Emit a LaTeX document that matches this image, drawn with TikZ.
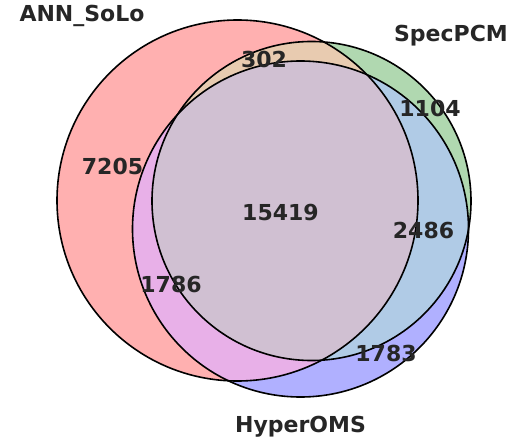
\documentclass[tikz,border=0pt]{standalone}
\usepackage{fontspec}
\setmainfont{DejaVu Sans}
\definecolor{rOnly}{HTML}{FFB0B0}
\definecolor{gOnly}{HTML}{B0D8B0}
\definecolor{bOnly}{HTML}{B0B0FF}
\definecolor{rgCol}{HTML}{E8CBB0}
\definecolor{rbCol}{HTML}{E8B0E8}
\definecolor{gbCol}{HTML}{B0CBE6}
\definecolor{rgbCol}{HTML}{D0C0D2}
\definecolor{txt}{HTML}{262626}
\tikzset{
  lbl/.style={font=\bfseries\fontsize{22}{26}\selectfont, text=txt, anchor=base, inner sep=0pt},
  outline/.style={draw=black, line width=1.6pt}
}
\begin{document}
\begin{tikzpicture}[x=1pt,y=-1pt]
\useasboundingbox (0,0) rectangle (522,441);
\coordinate (cR) at (237.5,200.5);
\coordinate (cG) at (311.5,201);
\coordinate (cB) at (300.5,229);
\def\rR{180.5}
\def\rG{159.5}
\def\rB{168}
% single sets
\fill[rOnly] (cR) circle[radius=\rR];
\fill[gOnly] (cG) circle[radius=\rG];
\fill[bOnly] (cB) circle[radius=\rB];
% pairwise
\begin{scope}
  \clip (cR) circle[radius=\rR];
  \fill[rgCol] (cG) circle[radius=\rG];
  \fill[rbCol] (cB) circle[radius=\rB];
\end{scope}
\begin{scope}
  \clip (cG) circle[radius=\rG];
  \fill[gbCol] (cB) circle[radius=\rB];
\end{scope}
\begin{scope}
  \clip (cR) circle[radius=\rR];
  \clip (cG) circle[radius=\rG];
  \fill[rgbCol] (cB) circle[radius=\rB];
\end{scope}
% outlines
\draw[outline] (cR) circle[radius=\rR];
\draw[outline] (cG) circle[radius=\rG];
\draw[outline] (cB) circle[radius=\rB];
% set labels
\node[lbl] (lA) at (82,22) {ANN\_SoLo};
\node[lbl] (lS) at (451,42) {SpecPCM};
\node[lbl] (lH) at (300.5,432) {HyperOMS};
% region counts
\node[lbl] (n302) at (264,68) {302};
\node[lbl] (n1104) at (430,117) {1104};
\node[lbl] (n7205) at (112.5,175) {7205};
\node[lbl] (n15419) at (280.5,220) {15419};
\node[lbl] (n2486) at (423.5,238) {2486};
\node[lbl] (n1786) at (171,292) {1786};
\node[lbl] (n1783) at (386,361) {1783};
\end{tikzpicture}
\end{document}
